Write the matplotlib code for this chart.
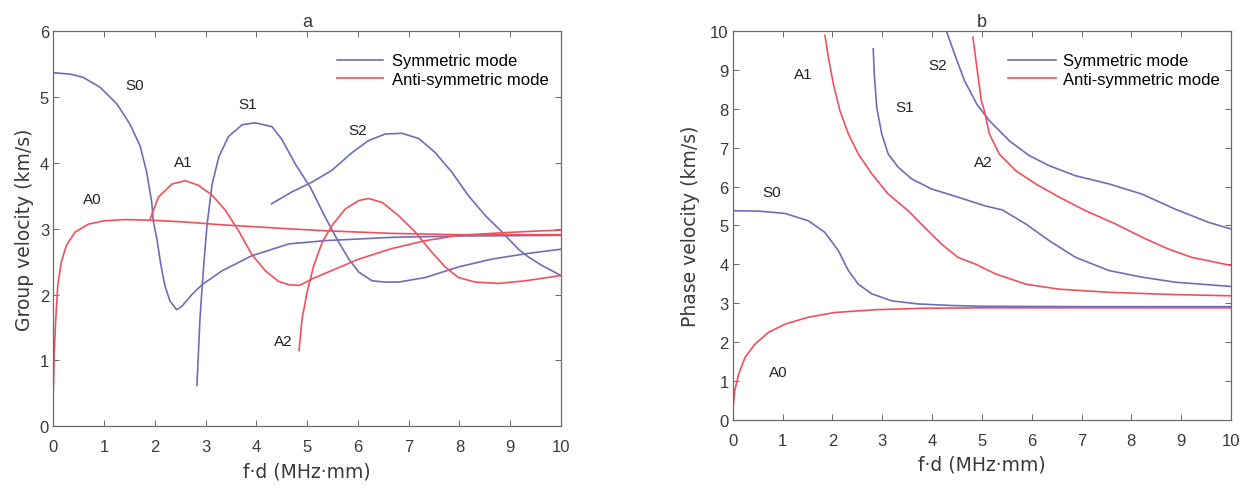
import matplotlib
matplotlib.use("Agg")
import matplotlib.pyplot as plt

plt.rcParams['font.family'] = ['Liberation Sans', 'DejaVu Sans']

# ---------------- Panel a: group velocity ----------------
S0_fd = [0.0, 0.33, 0.59, 0.92, 1.25, 1.51, 1.71, 1.84, 1.94, 1.97, 2.04, 2.12, 2.2, 2.3,
         2.43, 2.53, 2.73, 2.93, 3.32, 3.91, 4.64, 5.36, 6.67, 8.0, 10.0]
S0_vg = [5.37, 5.35, 5.30, 5.15, 4.90, 4.59, 4.26, 3.86, 3.40, 3.12, 2.85, 2.45, 2.13, 1.90,
         1.77, 1.82, 2.0, 2.15, 2.36, 2.59, 2.77, 2.82, 2.87, 2.89, 2.90]

S1_fd = [2.83, 2.89, 2.96, 3.03, 3.13, 3.26, 3.45, 3.72, 3.98, 4.31, 4.5, 4.77, 5.07, 5.36,
         5.62, 5.82, 6.02, 6.28, 6.54, 6.8, 7.33, 7.98, 8.64, 9.3, 10.0]
S1_vg = [0.62, 1.64, 2.41, 3.07, 3.68, 4.09, 4.40, 4.58, 4.61, 4.55, 4.36, 3.98, 3.62, 3.17,
         2.80, 2.54, 2.34, 2.21, 2.19, 2.19, 2.26, 2.42, 2.54, 2.62, 2.69]

S2_fd = [4.30, 4.7, 5.1, 5.49, 5.89, 6.21, 6.54, 6.87, 7.2, 7.52, 7.85, 8.18, 8.51, 8.84,
         9.16, 9.36, 9.63, 10.0]
S2_vg = [3.38, 3.56, 3.71, 3.89, 4.16, 4.34, 4.44, 4.45, 4.37, 4.16, 3.86, 3.50, 3.20, 2.95,
         2.69, 2.57, 2.44, 2.29]

A0_fd = [0.0, 0.02, 0.05, 0.09, 0.16, 0.26, 0.43, 0.69, 1.0, 1.4, 1.94, 2.66, 3.32, 3.98,
         4.64, 5.36, 6.67, 7.98, 10.0]
A0_vg = [0.52, 1.13, 1.64, 2.15, 2.50, 2.75, 2.95, 3.07, 3.12, 3.14, 3.13, 3.10, 3.06, 3.03,
         3.00, 2.97, 2.93, 2.91, 2.91]

A1_fd = [1.91, 2.07, 2.34, 2.6, 2.86, 3.13, 3.39, 3.65, 3.91, 4.18, 4.44, 4.64, 4.85, 5.1,
         5.56, 6.02, 6.67, 7.33, 7.98, 8.64, 9.36, 10.0]
A1_vg = [3.15, 3.48, 3.68, 3.73, 3.66, 3.51, 3.28, 2.97, 2.61, 2.36, 2.20, 2.15, 2.14, 2.24,
         2.39, 2.54, 2.70, 2.82, 2.90, 2.93, 2.96, 2.98]

A2_fd = [4.84, 4.9, 5.0, 5.13, 5.3, 5.49, 5.75, 6.02, 6.21, 6.48, 6.8, 7.13, 7.46, 7.72,
         7.98, 8.31, 8.77, 9.3, 10.0]
A2_vg = [1.15, 1.63, 2.04, 2.44, 2.80, 3.05, 3.30, 3.43, 3.46, 3.40, 3.20, 2.95, 2.64, 2.42,
         2.26, 2.19, 2.17, 2.21, 2.29]

# ---------------- Panel b: phase velocity ----------------
S0p_fd = [0.0, 0.52, 1.05, 1.52, 1.85, 2.12, 2.32, 2.52, 2.79, 3.19, 3.72, 4.39, 5.05, 7.0, 10.0]
S0p_vp = [5.38, 5.37, 5.31, 5.12, 4.82, 4.35, 3.84, 3.49, 3.24, 3.06, 2.98, 2.94, 2.92, 2.91, 2.91]

A0p_fd = [0.0, 0.04, 0.12, 0.25, 0.45, 0.72, 1.05, 1.52, 2.05, 2.85, 3.85, 5.05, 7.0, 10.0]
A0p_vp = [0.23, 0.75, 1.18, 1.61, 1.95, 2.25, 2.46, 2.64, 2.76, 2.83, 2.87, 2.88, 2.88, 2.88]

A1p_fd = [1.85, 1.92, 2.02, 2.15, 2.32, 2.52, 2.79, 3.12, 3.52, 3.85, 4.19, 4.52, 4.88, 5.28,
          5.88, 6.55, 7.55, 8.88, 10.0]
A1p_vp = [9.89, 9.33, 8.64, 7.96, 7.36, 6.84, 6.33, 5.81, 5.38, 4.95, 4.52, 4.18, 4.00, 3.75,
          3.49, 3.36, 3.28, 3.22, 3.19]

S1p_fd = [2.82, 2.84, 2.89, 2.99, 3.12, 3.32, 3.59, 3.99, 4.52, 5.05, 5.41, 5.88, 6.35, 6.88,
          7.55, 8.21, 8.88, 10.0]
S1p_vp = [9.55, 8.90, 8.04, 7.36, 6.84, 6.50, 6.20, 5.94, 5.73, 5.51, 5.40, 5.04, 4.61, 4.18,
          3.84, 3.67, 3.54, 3.43]

S2p_fd = [4.29, 4.45, 4.65, 4.9, 5.15, 5.55, 5.95, 6.35, 6.88, 7.55, 8.21, 8.88, 9.55, 10.0]
S2p_vp = [10.0, 9.42, 8.73, 8.12, 7.70, 7.18, 6.80, 6.54, 6.28, 6.07, 5.81, 5.42, 5.08, 4.91]

A2p_fd = [4.82, 4.89, 4.99, 5.05, 5.15, 5.35, 5.68, 6.08, 6.55, 7.08, 7.68, 8.21, 8.75, 9.21, 10.0]
A2p_vp = [9.85, 9.16, 8.21, 7.95, 7.36, 6.84, 6.41, 6.07, 5.73, 5.38, 5.04, 4.70, 4.39, 4.18, 3.97]

# mode labels: (text, x, y)
labels_a = [("S0", 1.61, 5.19), ("S1", 3.83, 4.90), ("S2", 5.99, 4.50),
            ("A0", 0.76, 3.45), ("A1", 2.57, 4.02), ("A2", 4.54, 1.30)]
labels_b = [("A1", 1.42, 8.90), ("S2", 4.12, 9.12), ("S1", 3.45, 8.04),
            ("A2", 5.02, 6.63), ("S0", 0.79, 5.85), ("A0", 0.92, 1.22)]

sym_label = "Symmetric mode"
anti_label = "Anti-symmetric mode"
xlabel = "f·d (MHz·mm)"

BLUE = "#6e6eb8"
RED = "#f0505c"
SPINE = "#6a6a6a"
TXT = "#3a3a3a"
LABEL_FONT = ['DejaVu Sans']

fig = plt.figure(figsize=(12.5, 4.89), dpi=100)
ax1 = fig.add_axes([0.0426, 0.1262, 0.4062, 0.8078])
ax2 = fig.add_axes([0.5862, 0.1397, 0.3986, 0.7943])


def style(ax, ymax):
    ax.set_xlim(0, 10)
    ax.set_ylim(0, ymax)
    ax.set_xticks(range(0, 11))
    ax.set_yticks(range(0, ymax + 1))
    ax.tick_params(direction='in', length=4, width=0.7, top=True, right=True,
                   colors=SPINE, labelcolor=TXT, labelsize=12)
    ax.tick_params(axis='x', pad=9.5)
    ax.tick_params(axis='y', pad=3)
    for s in ax.spines.values():
        s.set_color(SPINE)
        s.set_linewidth(0.9)
    ax.set_xlabel(xlabel, fontsize=13.5, color=TXT, labelpad=5, family=LABEL_FONT)


lw = 1.2
# panel a
l1, = ax1.plot(S0_fd, S0_vg, color=BLUE, lw=lw, label=sym_label)
ax1.plot(S1_fd, S1_vg, color=BLUE, lw=lw)
ax1.plot(S2_fd, S2_vg, color=BLUE, lw=lw)
l2, = ax1.plot(A0_fd, A0_vg, color=RED, lw=lw, label=anti_label)
ax1.plot(A1_fd, A1_vg, color=RED, lw=lw)
ax1.plot(A2_fd, A2_vg, color=RED, lw=lw)
style(ax1, 6)
ax1.set_ylabel("Group velocity (km/s)", fontsize=13.5, color=TXT, labelpad=4,
               family=LABEL_FONT)
ax1.set_title("a", fontsize=13, color=TXT, pad=4)
for t, x, y in labels_a:
    ax1.text(x, y, t, fontsize=11, color="#222222", ha='center', va='center')
ax1.legend(handles=[l1, l2], loc='upper left', bbox_to_anchor=(0.558, 0.944),
           frameon=False, fontsize=12, handlelength=2.8, handletextpad=0.5,
           labelspacing=0.2, borderpad=0, borderaxespad=0)

# panel b
m1, = ax2.plot(S0p_fd, S0p_vp, color=BLUE, lw=lw, label=sym_label)
ax2.plot(S1p_fd, S1p_vp, color=BLUE, lw=lw)
ax2.plot(S2p_fd, S2p_vp, color=BLUE, lw=lw)
m2, = ax2.plot(A0p_fd, A0p_vp, color=RED, lw=lw, label=anti_label)
ax2.plot(A1p_fd, A1p_vp, color=RED, lw=lw)
ax2.plot(A2p_fd, A2p_vp, color=RED, lw=lw)
style(ax2, 10)
ax2.set_ylabel("Phase velocity (km/s)", fontsize=13.5, color=TXT, labelpad=7,
               family=LABEL_FONT)
ax2.set_title("b", fontsize=13, color=TXT, pad=4)
for t, x, y in labels_b:
    ax2.text(x, y, t, fontsize=11, color="#222222", ha='center', va='center')
ax2.legend(handles=[m1, m2], loc='upper left', bbox_to_anchor=(0.5525, 0.943),
           frameon=False, fontsize=12, handlelength=2.9, handletextpad=0.4,
           labelspacing=0.2, borderpad=0, borderaxespad=0)

fig.savefig("out.png", dpi=100)
